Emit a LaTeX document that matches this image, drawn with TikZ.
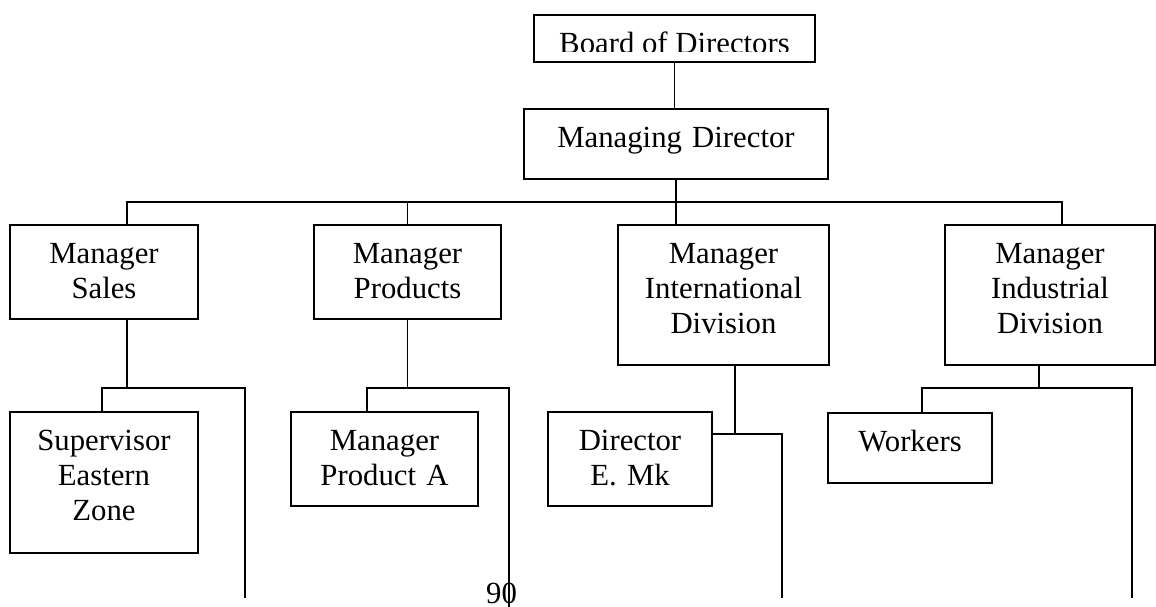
\documentclass[tikz,border=0pt]{standalone}
\usepackage{fontspec}
\setmainfont{Liberation Serif}
\newcommand{\chartfont}{\fontsize{17.5}{19.9}\selectfont}

\begin{document}
\begin{tikzpicture}[x=0.02cm,y=-0.02cm,line width=1.1pt,
    orgbox/.style={draw,anchor=north,inner sep=0pt,align=center,font=\chartfont,text height=0.78cm}]
          \useasboundingbox (0,0) rectangle (1156,607);
          % top of the chart
          \node[orgbox,text width=5.62cm,text height=0.76cm,text depth=0.18cm] (board) at (674.5,14) {};
          \begin{scope}
            \clip (board.north west) rectangle ([yshift=0.22cm]board.south east);
            \node[anchor=base,font=\chartfont,inner sep=0pt] (boardtext) at (674.5,54) {Board of Directors};
          \end{scope}
          \node[orgbox,text width=6.08cm,text depth=0.62cm] (md) at (676,108) {Managing Director};
          % managers
          \node[orgbox,text width=3.76cm,text depth=1.10cm] (sales) at (104,224) {Manager\\Sales};
          \node[orgbox,text width=3.74cm,text depth=1.10cm] (prod) at (407.5,224) {Manager\\Products};
          \node[orgbox,text width=4.22cm,text depth=2.02cm] (intl) at (723.5,224) {Manager\\International\\Division};
          \node[orgbox,text width=4.20cm,text depth=2.02cm] (ind) at (1050,224) {Manager\\Industrial\\Division};
          % lower level
          \node[orgbox,text width=3.76cm,text depth=2.04cm] (sup) at (104,411) {Supervisor\\Eastern\\Zone};
          \node[orgbox,text width=3.74cm,text depth=1.10cm] (proda) at (384.5,411) {Manager\\Product A};
          \node[orgbox,text width=3.28cm,text depth=1.10cm] (dir) at (630,411) {Director\\E. Mk};
          \node[orgbox,text width=3.28cm,text depth=0.62cm] (work) at (910,412) {Workers};
          \node[anchor=base,font=\chartfont,inner sep=0pt] (pagenum) at (501.5,603) {90};

          \coordinate (busL) at (127,202);
          \coordinate (busR) at (1062,202);
          \coordinate (salesA) at (102,388);
          \coordinate (salesB) at (245,388);
          \coordinate (salesEnd) at (245,598);
          \coordinate (prodA) at (367,388);
          \coordinate (prodB) at (509,388);
          \coordinate (prodEnd) at (509,607);
          \coordinate (intlA) at (735,434);
          \coordinate (intlB) at (782,434);
          \coordinate (intlEnd) at (782,598);
          \coordinate (indC) at (1039,388);
          \coordinate (indA) at (922,388);
          \coordinate (indB) at (1132,388);
          \coordinate (indEnd) at (1132,598);

          \draw (board.south) -- (board.south |- md.north);
          \draw (md.south) -- (md.south |- busL);
          \draw (busL |- sales.north) -- (busL) -- (busR) -- (busR |- ind.north);
          \draw (prod.north) -- (prod.north |- busL);
          \draw (md.south |- busL) -- (md.south |- intl.north);

          \draw (busL |- sales.south) -- (busL |- salesA);
          \draw (salesA |- sup.north) -- (salesA) -- (salesB) -- (salesEnd);
          \draw (prod.south) -- (prod.south |- prodA);
          \draw (prodA |- proda.north) -- (prodA) -- (prodB) -- (prodEnd);
          \draw (intlA |- intl.south) -- (intlA);
          \draw (dir.east |- intlA) -- (intlB) -- (intlEnd);
          \draw (indC |- ind.south) -- (indC);
          \draw (indA |- work.north) -- (indA) -- (indB) -- (indEnd);
        \end{tikzpicture}
\end{document}
